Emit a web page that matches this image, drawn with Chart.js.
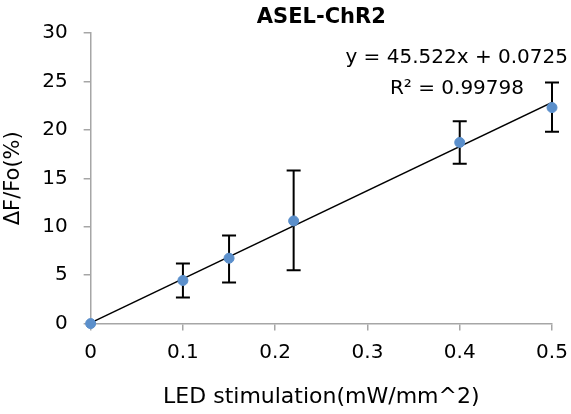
<!DOCTYPE html>
<html>
<head>
<meta charset="utf-8">
<script src="https://cdn.jsdelivr.net/npm/chart.js@4.4.0/dist/chart.umd.min.js"></script>
<style>
  html, body { margin: 0; padding: 0; background: #fff; }
  #wrap { width: 571px; height: 414px; }
</style>
</head>
<body>
<div id="wrap"><canvas id="ledChart"></canvas></div>
<script>
// valeurs
var ledPower = [0, 0.1, 0.15, 0.22, 0.4, 0.5];
var deltaF = [0, 4.45, 6.75, 10.6, 18.7, 22.3];
var errUp = [0, 1.75, 2.35, 5.2, 2.2, 2.6];
var errDown = [0, 1.75, 2.5, 5.1, 2.2, 2.5];

// droite de tendance (équation affichée)
var slope = 45.522;
var intercept = 0.0725;
var fitX = [0, 0.5];

var font = "'DejaVu Sans', sans-serif";
var gray = '#a6a6a6';

var pointData = ledPower.map(function (x, i) { return { x: x, y: deltaF[i] }; });
var fitData = fitX.map(function (x) { return { x: x, y: slope * x + intercept }; });

// barres d'erreur
var errorBars = {
    id: 'errorBars',
    beforeDatasetsDraw: function (chart) {
        var ctx = chart.ctx;
        var xs = chart.scales.x, ys = chart.scales.y;
        ctx.save();
        ctx.strokeStyle = '#000';
        ctx.lineWidth = 2;
        ledPower.forEach(function (x, i) {
            if (!errUp[i] && !errDown[i]) return;
            var px = xs.getPixelForValue(x);
            var top = ys.getPixelForValue(deltaF[i] + errUp[i]);
            var bot = ys.getPixelForValue(deltaF[i] - errDown[i]);
            ctx.beginPath();
            ctx.moveTo(px, top); ctx.lineTo(px, bot);
            ctx.moveTo(px - 7, top); ctx.lineTo(px + 7, top);
            ctx.moveTo(px - 7, bot); ctx.lineTo(px + 7, bot);
            ctx.stroke();
        });
        ctx.restore();
    }
};

// titre + équation
var labels = {
    id: 'labels',
    afterDraw: function (chart) {
        var ctx = chart.ctx;
        var a = chart.chartArea;
        ctx.save();
        ctx.fillStyle = '#000';
        ctx.textBaseline = 'middle';
        ctx.textAlign = 'center';
        ctx.font = 'bold 21px ' + font;
        ctx.fillText('ASEL-ChR2', (a.left + a.right) / 2, 18);
        ctx.font = '20px ' + font;
        ctx.textAlign = 'right';
        ctx.fillText('y = 45.522x + 0.0725', 568, 58);
        ctx.fillText('R² = 0.99798', 524, 89);
        ctx.restore();
    }
};

var chart = new Chart(document.getElementById('ledChart'), {
    type: 'scatter',
    data: {
        datasets: [{
            label: 'ASEL-ChR2',
            data: pointData,
            backgroundColor: '#5b8fcb',
            borderColor: '#5b8fcb',
            pointRadius: 5,
            clip: false,
            order: 0
        }, {
            label: 'fit',
            type: 'line',
            data: fitData,
            borderColor: '#000',
            borderWidth: 1.5,
            pointRadius: 0,
            fill: false,
            order: 1
        }]
    },
    options: {
        responsive: true,
        maintainAspectRatio: false,
        animation: false,
        layout: { padding: { top: 33, right: 0, bottom: 4, left: 1 } },
        plugins: {
            legend: { display: false },
            tooltip: { enabled: false }
        },
        scales: {
            x: {
                type: 'linear',
                min: 0,
                max: 0.5,
                afterFit: function (scale) { scale.paddingRight = 19; },
                border: { color: gray, width: 1.5 },
                grid: { drawOnChartArea: false, color: gray, tickLength: 7, lineWidth: 1.5 },
                ticks: { stepSize: 0.1, color: '#000', font: { family: font, size: 20 }, padding: 10 },
                title: { display: true, text: 'LED stimulation(mW/mm^2)', color: '#000', font: { family: font, size: 22 }, padding: { top: 9, bottom: 0 } }
            },
            y: {
                min: 0,
                max: 30,
                border: { color: gray, width: 1.5 },
                grid: { drawOnChartArea: false, color: gray, tickLength: 7, lineWidth: 1.5 },
                ticks: { stepSize: 5, color: '#000', font: { family: font, size: 20 }, padding: 16 },
                title: { display: true, text: 'ΔF/Fo(%)', color: '#000', font: { family: font, size: 21 }, padding: 0 }
            }
        }
    },
    plugins: [errorBars, labels]
});
</script>
</body>
</html>
